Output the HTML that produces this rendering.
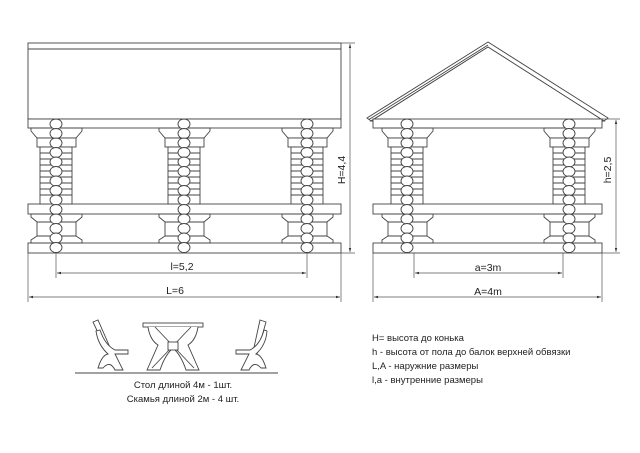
<!DOCTYPE html>
<html><head><meta charset="utf-8"><style>
html,body{margin:0;padding:0;background:#fff}
svg{display:block}
text{font-family:"Liberation Sans",sans-serif;fill:#222}
</style></head><body>
<svg width="640" height="453" viewBox="0 0 640 453" xmlns="http://www.w3.org/2000/svg">
<defs>
<marker id="ar" viewBox="0 0 10 10" refX="10" refY="5" markerWidth="6" markerHeight="6" orient="auto-start-reverse"><path d="M0,2 L10,5 L0,8z" fill="#333"/></marker>
<g id="post" fill="#fff" stroke="#444" stroke-width="0.9">
<polygon points="-25,128 26,128 26,131 20,138 -19,138 -25,131"/>
<rect x="-19" y="138" width="39" height="9"/>
<rect x="-16" y="147" width="32" height="57"/>
<path d="M-16,153H16M-16,159H16M-16,165H16M-16,171H16M-16,177H16M-16,183H16M-16,189H16M-16,195H16" fill="none"/>
<polygon points="-25,214 26,214 26,217 20,222 20,236 26,240 26,243 -25,243 -25,240 -19,236 -19,222 -25,217"/>
<path d="M-19,222H20M-19,236H20" fill="none"/>
<ellipse cx="0" cy="124" rx="6" ry="5"/><ellipse cx="0" cy="133.5" rx="6" ry="5"/><ellipse cx="0" cy="143" rx="6" ry="5"/><ellipse cx="0" cy="152.5" rx="6" ry="5"/><ellipse cx="0" cy="162" rx="6" ry="5"/><ellipse cx="0" cy="171.5" rx="6" ry="5"/><ellipse cx="0" cy="181" rx="6" ry="5"/><ellipse cx="0" cy="190.5" rx="6" ry="5"/><ellipse cx="0" cy="200" rx="6" ry="5"/><ellipse cx="0" cy="209.5" rx="6" ry="5"/><ellipse cx="0" cy="219" rx="6" ry="5"/><ellipse cx="0" cy="228.5" rx="6" ry="5"/><ellipse cx="0" cy="238" rx="6" ry="5"/><ellipse cx="0" cy="247.5" rx="6" ry="5"/>
</g>
</defs>
<g fill="#fff" stroke="#444" stroke-width="0.9">
<!-- left view -->
<rect x="28" y="43" width="313" height="76"/>
<line x1="28" y1="49" x2="341" y2="49"/>
<rect x="28" y="119" width="313" height="9"/>
<rect x="28" y="204" width="313" height="10"/>
<rect x="28" y="243" width="313" height="10"/>
<!-- right view -->
<polygon points="367,118 488,42 608,118 604,121 488,47 371,121"/>
<line x1="369" y1="119.5" x2="488" y2="45" />
<polygon points="371,121 488,47 604,121"/>
<rect x="373" y="119" width="229" height="9"/>
<rect x="373" y="204" width="229" height="10"/>
<rect x="373" y="243" width="229" height="10"/>
</g>
<use href="#post" x="56"/><use href="#post" x="184"/><use href="#post" x="307"/>
<use href="#post" x="407"/><use href="#post" x="569"/>
<!-- dimensions -->
<g stroke="#555" stroke-width="0.7" fill="none">
<path d="M28,253V302M341,253V302M56,253V278M307,253V278M341,43H355M341,253H355"/>
<line x1="350" y1="44" x2="350" y2="252" marker-start="url(#ar)" marker-end="url(#ar)"/>
<line x1="57" y1="273" x2="306" y2="273" marker-start="url(#ar)" marker-end="url(#ar)"/>
<line x1="29" y1="297" x2="340" y2="297" marker-start="url(#ar)" marker-end="url(#ar)"/>
<path d="M373,253V302M602,253V302M414,253V278M563,253V278M602,119H620M602,253H620"/>
<line x1="616" y1="120" x2="616" y2="252" marker-start="url(#ar)" marker-end="url(#ar)"/>
<line x1="415" y1="273" x2="562" y2="273" marker-start="url(#ar)" marker-end="url(#ar)"/>
<line x1="374" y1="297" x2="601" y2="297" marker-start="url(#ar)" marker-end="url(#ar)"/>
</g>
<g font-size="10.5" text-anchor="middle">
<text x="182" y="270">l=5,2</text>
<text x="175" y="294">L=6</text>
<text x="488" y="271">a=3m</text>
<text x="488" y="295">A=4m</text>
<text transform="translate(345,170) rotate(-90)">H=4,4</text>
<text transform="translate(611,170) rotate(-90)">h=2,5</text>
</g>
<!-- furniture -->
<g fill="#fff" stroke="#444" stroke-width="0.9">
<line x1="75" y1="373" x2="278" y2="373"/>
<rect x="143" y="323" width="60" height="4"/>
<path d="M148,327 Q150,340 158,345 L147,370 H160 Q165,355 173,348 Q181,355 186,370 H199 L188,345 Q196,340 198,327"/>
<path d="M155,327 L194,368 M191,327 L152,368"/>
<rect x="168" y="342" width="10" height="8"/>
<path d="M93,322 L98,320 L112,352 L108,354z"/>
<path d="M100,330 Q105,345 115,350 L128,350 L128,354 L115,354 L123,370 H115 Q110,360 103,368 L98,368 Q102,355 108,354 Q98,345 96,331z"/>
<path d="M260,320 L266,322 L257,354 L253,352z"/>
<path d="M264,330 Q260,345 250,350 L236,350 L236,354 L249,354 L241,370 H249 Q254,360 261,368 L266,368 Q262,355 256,354 Q266,345 267,331z"/>
</g>
<g font-size="9.5">
<text x="183" y="388" text-anchor="middle">Стол длиной 4м  - 1шт.</text>
<text x="183" y="402" text-anchor="middle">Скамья длиной 2м - 4 шт.</text>
<text x="372" y="341">H= высота до конька</text>
<text x="372" y="355">h -  высота от пола до балок верхней обвязки</text>
<text x="372" y="369">L,A - наружние размеры</text>
<text x="372" y="383">l,a - внутренние размеры</text>
</g>
</svg>
</body></html>
